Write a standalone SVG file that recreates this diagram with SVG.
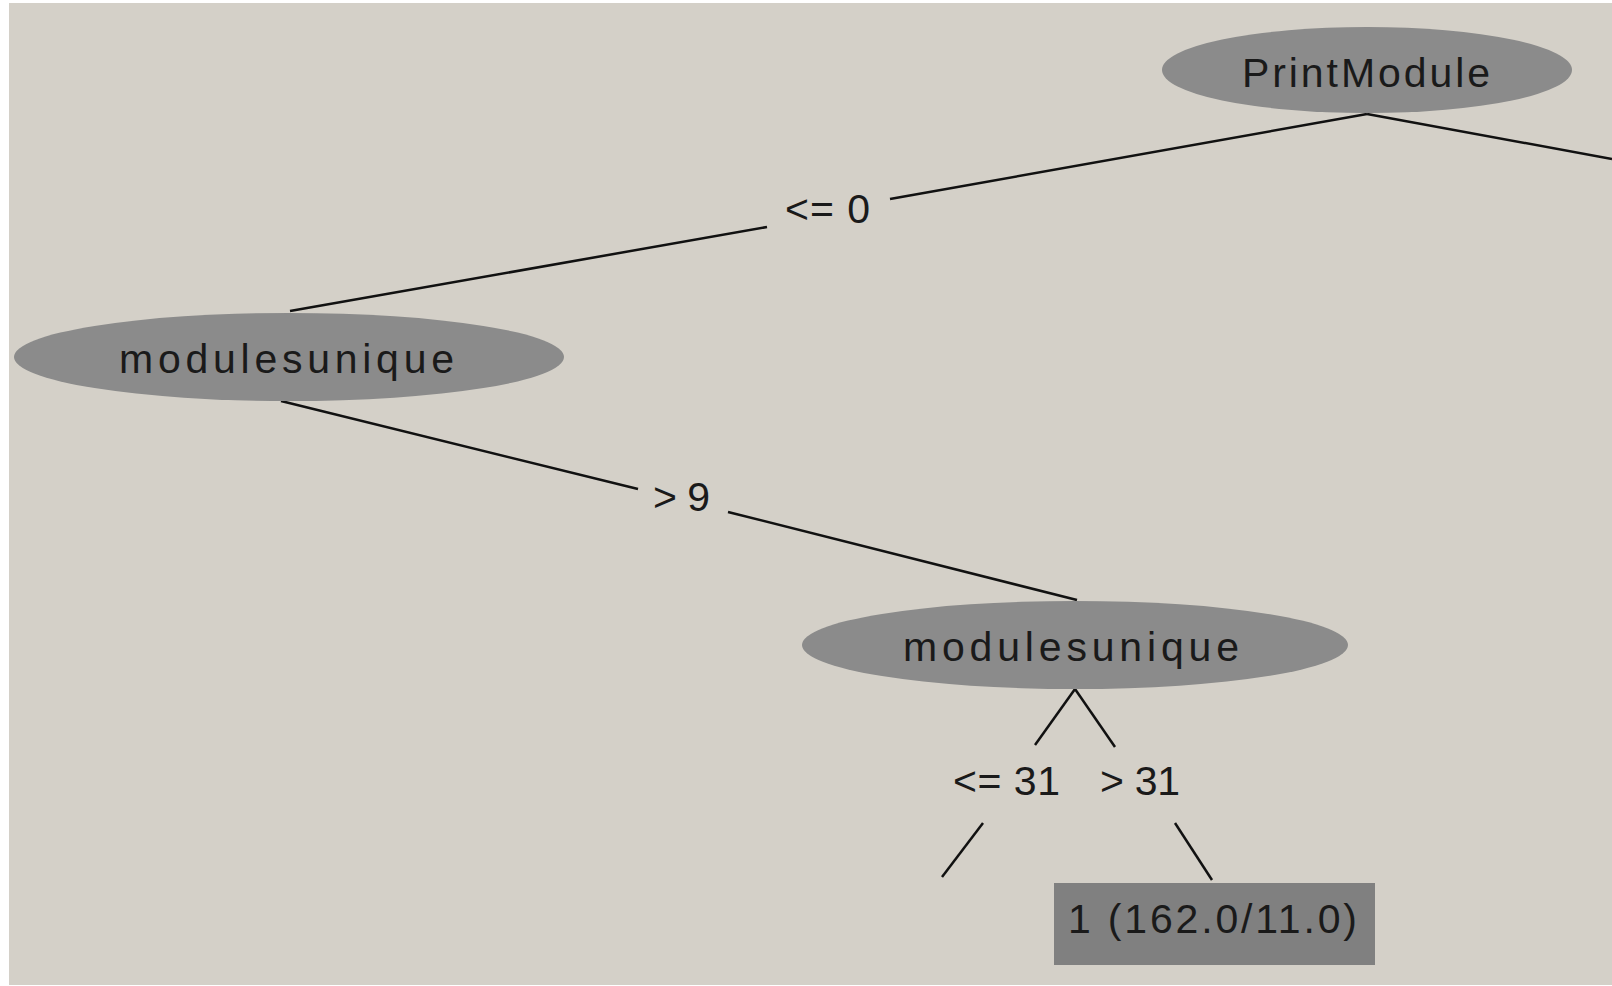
<svg xmlns="http://www.w3.org/2000/svg" width="1612" height="986" viewBox="0 0 1612 986">
<style>
.node{fill:#8b8b8b;}
.leaf{fill:#808080;}
.t{font-family:"Liberation Sans",Arial,sans-serif;font-size:41px;fill:#1a1a1a;}
.e{stroke:#111;stroke-width:2.5;fill:none;}
</style>
<rect x="0" y="0" width="1612" height="986" fill="#ffffff"/>
<rect x="9" y="3" width="1603" height="982" fill="#d4d0c8"/>
<g id="connectors">
<line class="e" x1="1367" y1="114" x2="890" y2="199"/>
<line class="e" x1="767" y1="227" x2="290" y2="311"/>
<text class="t" x="785" y="223" textLength="85" lengthAdjust="spacing">&lt;= 0</text>
<line class="e" x1="1367" y1="114" x2="1612" y2="159"/>
<line class="e" x1="281" y1="401" x2="638" y2="489"/>
<line class="e" x1="728" y1="512" x2="1077" y2="600"/>
<text class="t" x="653" y="511" textLength="57" lengthAdjust="spacing">&gt; 9</text>
<line class="e" x1="1075" y1="689" x2="1035" y2="745"/>
<line class="e" x1="983" y1="823" x2="942" y2="877"/>
<text class="t" x="953" y="795" textLength="107" lengthAdjust="spacing">&lt;= 31</text>
<line class="e" x1="1075" y1="689" x2="1115" y2="747"/>
<line class="e" x1="1175" y1="823" x2="1212" y2="880"/>
<text class="t" x="1100" y="795" textLength="80" lengthAdjust="spacing">&gt; 31</text>
</g>
<g id="node-printmodule">
<ellipse class="node" cx="1367" cy="70" rx="205" ry="43"/>
<text class="t" x="1242" y="87" textLength="248" lengthAdjust="spacing">PrintModule</text>
</g>
<g id="node-modulesunique-1">
<ellipse class="node" cx="289" cy="357" rx="275" ry="44"/>
<text class="t" x="119" y="373" textLength="335" lengthAdjust="spacing">modulesunique</text>
</g>
<g id="node-modulesunique-2">
<ellipse class="node" cx="1075" cy="645" rx="273" ry="44"/>
<text class="t" x="903" y="661" textLength="336" lengthAdjust="spacing">modulesunique</text>
</g>
<g id="leaf-1">
<rect class="leaf" x="1054" y="883" width="321" height="82"/>
<text class="t" x="1068" y="933" textLength="289" lengthAdjust="spacing">1 (162.0/11.0)</text>
</g>
</svg>
